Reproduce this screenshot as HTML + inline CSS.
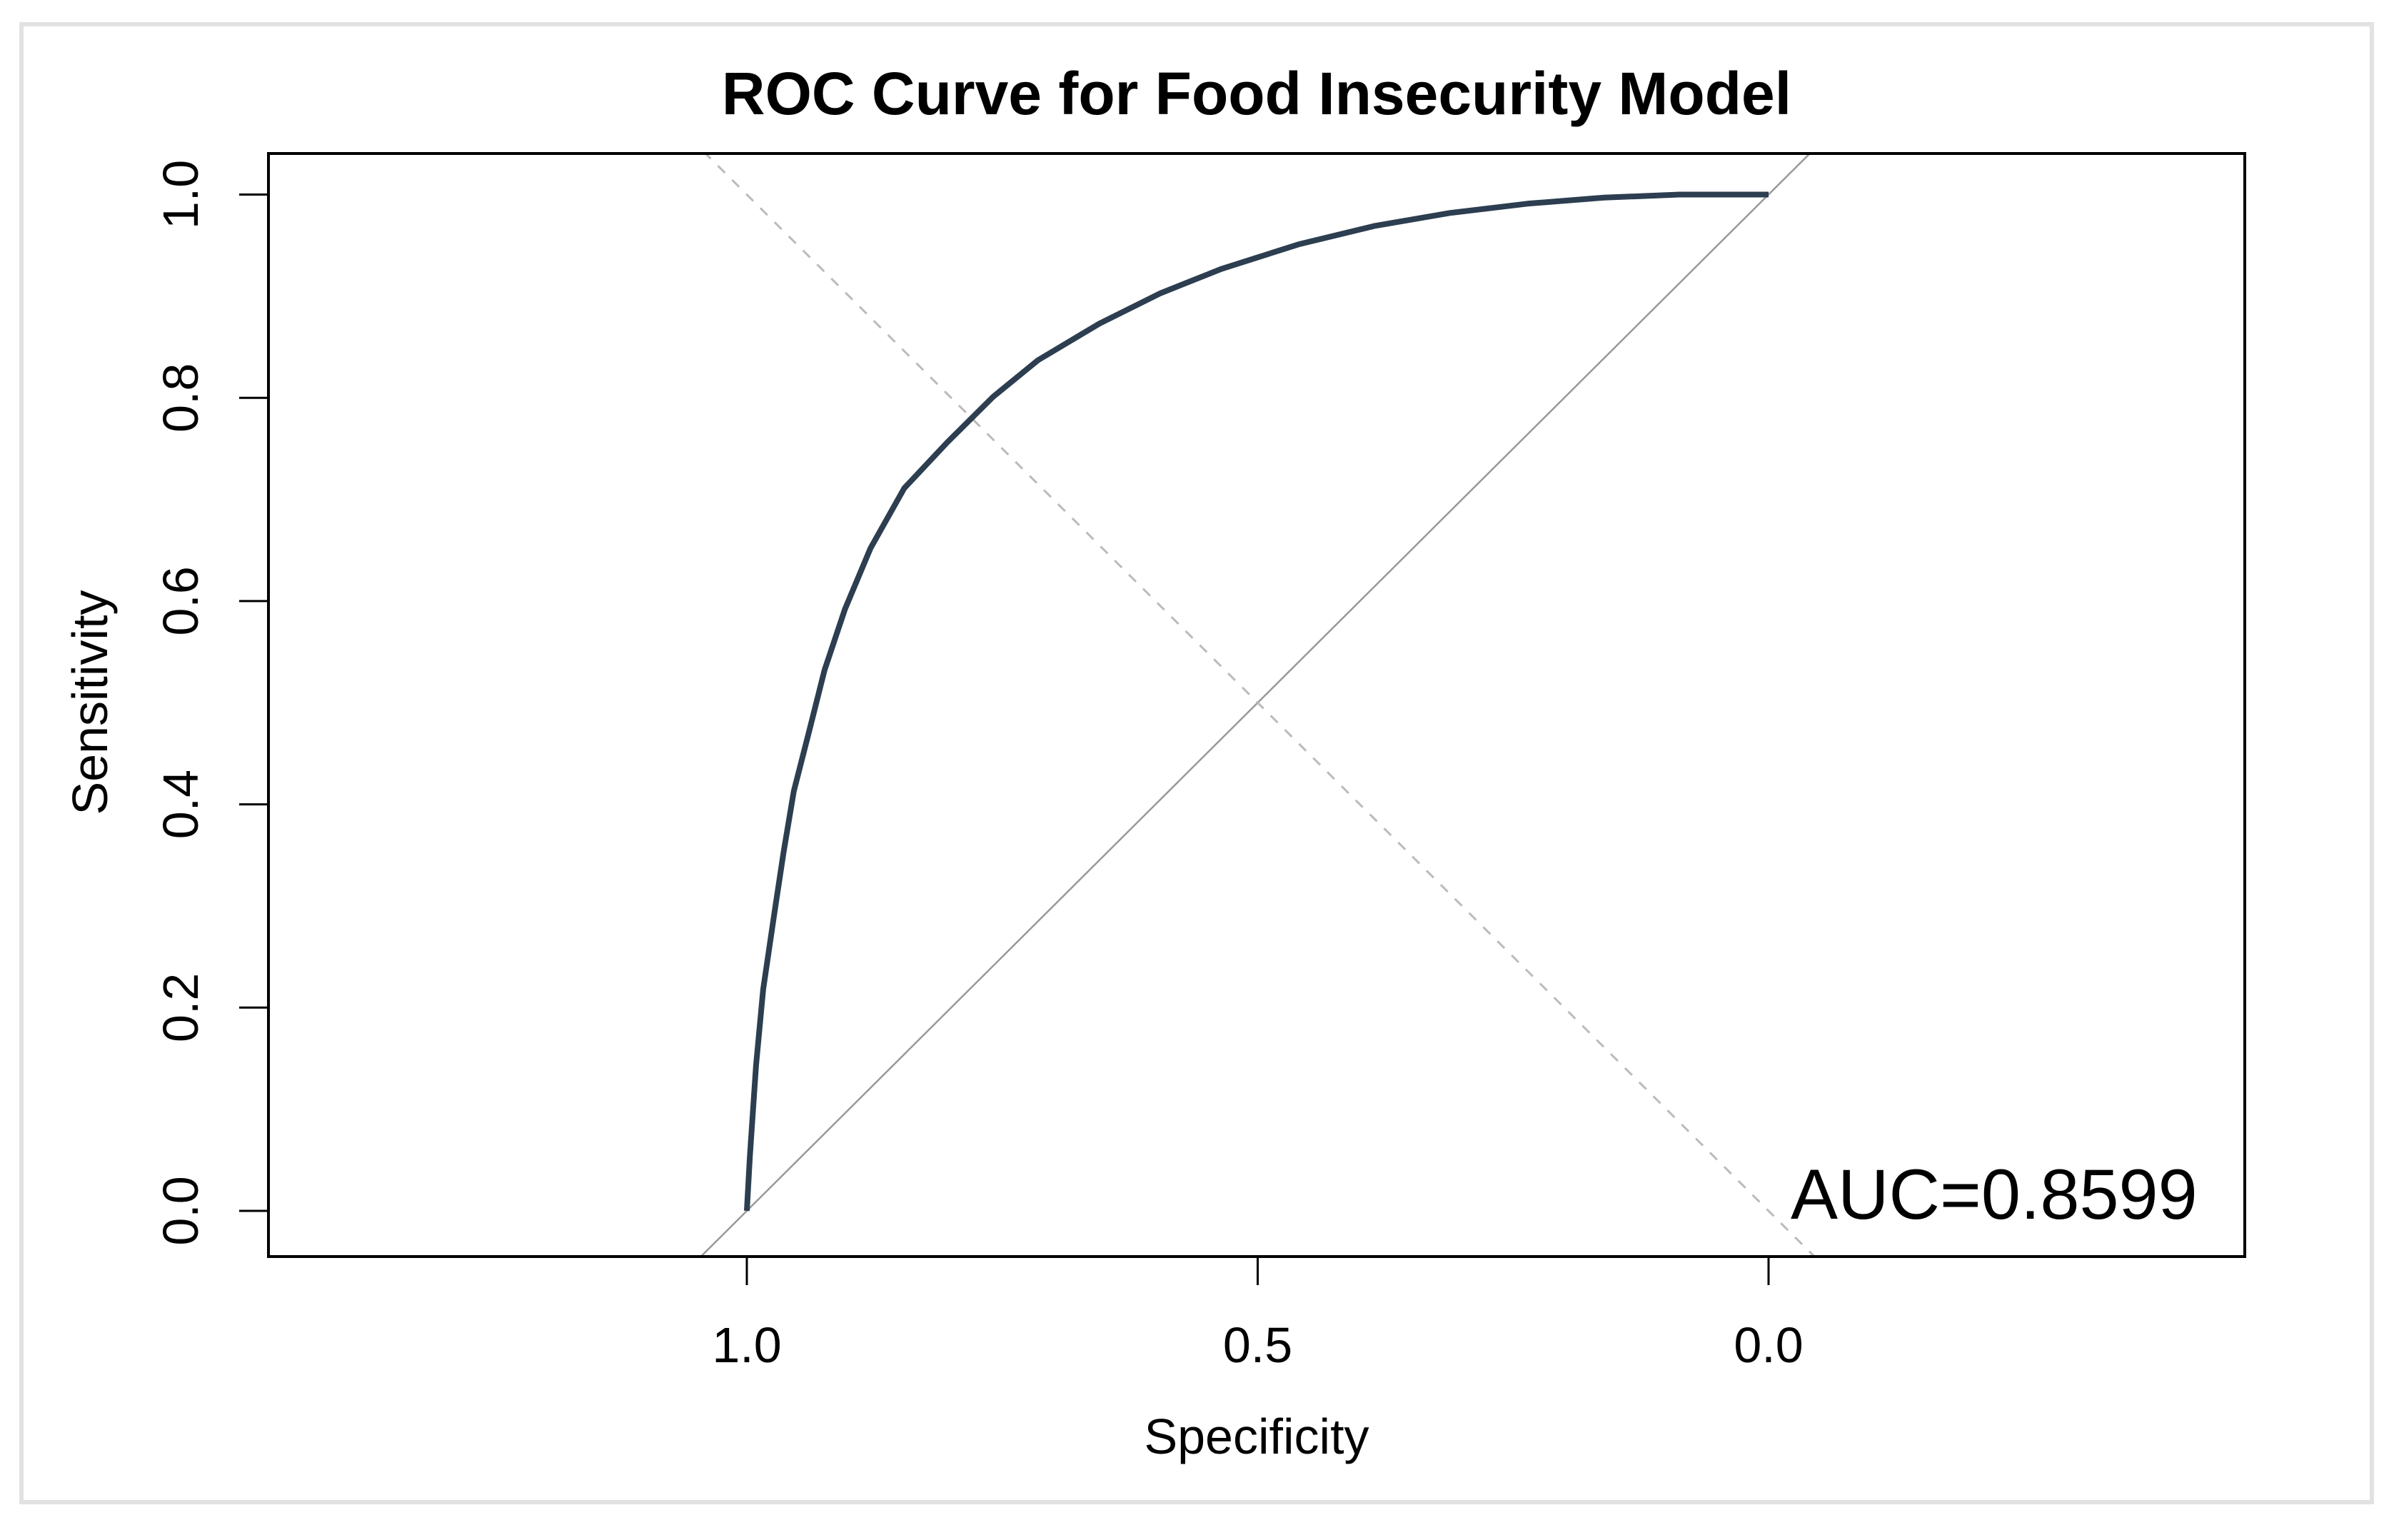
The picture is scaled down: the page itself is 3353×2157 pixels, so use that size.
<!DOCTYPE html>
<html><head><meta charset="utf-8"><style>
html,body{margin:0;padding:0;background:#fff;width:3353px;height:2157px;overflow:hidden;}
svg{display:block;font-family:"Liberation Sans",Arial,sans-serif;}
</style></head><body>
<svg id="chart" width="3353" height="2157" viewBox="0 0 3353 2157">
<rect x="30" y="34" width="3292" height="2070" fill="#fff" stroke="#e2e2e2" stroke-width="6"/>
<text x="1760" y="160" text-anchor="middle" font-size="84" font-weight="bold">ROC Curve for Food Insecurity Model</text>
<defs><clipPath id="pc"><rect x="376" y="215" width="2768" height="1545"/></clipPath></defs>
<g id="refs" clip-path="url(#pc)"></g>
<g id="curve" clip-path="url(#pc)"></g>
<rect x="376" y="215" width="2768" height="1545" fill="none" stroke="#000" stroke-width="4"/>
<g id="axes"></g>
<text x="1760" y="2036" text-anchor="middle" font-size="70">Specificity</text>
<text transform="translate(150,984) rotate(-90)" text-anchor="middle" font-size="70">Sensitivity</text>
<text x="2508" y="1707" font-size="99">AUC=0.8599</text>
</svg>
<script>
const specificity=[1,0.997,0.991,0.984,0.973,0.964,0.954,0.939,0.924,0.904,0.879,0.846,0.804,0.759,0.715,0.655,0.595,0.535,0.46,0.386,0.311,0.236,0.161,0.087,0];
const sensitivity=[0,0.054,0.143,0.218,0.293,0.353,0.413,0.472,0.532,0.592,0.652,0.711,0.756,0.801,0.837,0.873,0.903,0.927,0.951,0.969,0.982,0.991,0.997,1,1];
const xTicks=[1.0,0.5,0.0];
const xTickLabels=["1.0","0.5","0.0"];
const yTicks=[0,0.2,0.4,0.6,0.8,1.0];
const yTickLabels=["0.0","0.2","0.4","0.6","0.8","1.0"];
const NS="http://www.w3.org/2000/svg";
function sx(s){return 2477-(2477-1046)*s;}
function sy(v){return 1696-(1696-272.5)*v;}
function mk(tag,attrs,parent){const e=document.createElementNS(NS,tag);for(const k in attrs)e.setAttribute(k,attrs[k]);parent.appendChild(e);return e;}
const refs=document.getElementById('refs');
const d1=mk('line',{x1:sx(1.5),y1:sy(-0.5),x2:sx(-0.5),y2:sy(1.5),stroke:'#999',"stroke-width":2.5},refs);


const d2=mk('line',{x1:sx(1.5),y1:sy(1.5),x2:sx(-0.5),y2:sy(-0.5),stroke:'#bbb',"stroke-width":3,"stroke-dasharray":"14 14"},refs);


const pts=specificity.map((s,i)=>sx(s).toFixed(1)+','+sy(sensitivity[i]).toFixed(1)).join(' ');
const pl=mk('polyline',{points:pts,fill:'none',stroke:'#2c3e50',"stroke-width":8,"stroke-linejoin":"round"},document.getElementById('curve'));


const ax=document.getElementById('axes');
xTicks.forEach((t,i)=>{
 const l=mk('line',{x1:sx(t),y1:1760,x2:sx(t),y2:1800,stroke:'#000',"stroke-width":3},ax);
 
 
 const tx=mk('text',{x:sx(t),y:1908,"text-anchor":"middle","font-size":70},ax);
 tx.textContent=xTickLabels[i];
 
 
});
yTicks.forEach((t,i)=>{
 const l=mk('line',{x1:335,y1:sy(t),x2:376,y2:sy(t),stroke:'#000',"stroke-width":3},ax);
 
 
 const tx=mk('text',{transform:'translate(277,'+sy(t)+') rotate(-90)',"text-anchor":"middle","font-size":70},ax);
 tx.textContent=yTickLabels[i];
 
 
});
</script>
</body></html>
